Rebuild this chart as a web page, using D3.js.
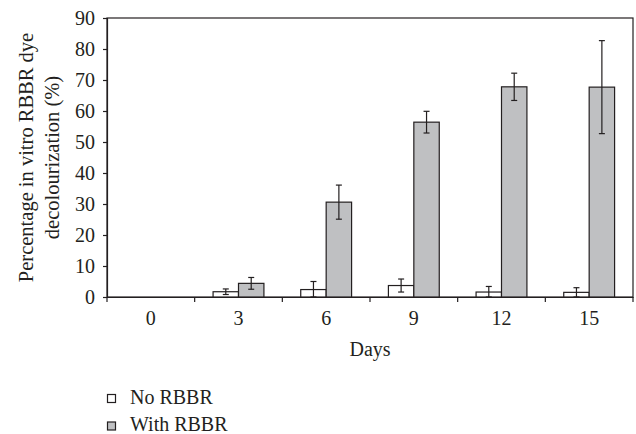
<!DOCTYPE html>
<html><head><meta charset="utf-8">
<script src="https://cdn.jsdelivr.net/npm/d3@7"></script>
<style>
body{margin:0;background:#fff;}
text{font-family:"Liberation Serif","Times New Roman",serif;fill:#231f20;}
</style></head>
<body><svg id="c" width="636" height="434"></svg>
<script>
const days = ["0","3","6","9","12","15"];
const seriesNames = ["No RBBR","With RBBR"];
const noRBBR = [0, 1.7, 2.4, 3.7, 1.6, 1.5];
const noRBBRErr = [0, 0.9, 2.6, 2.1, 1.8, 1.5];
const withRBBR = [0, 4.4, 30.6, 56.4, 67.8, 67.7];
const withRBBRErr = [0, 1.9, 5.5, 3.5, 4.4, 15.0];
const yTicks = [0,10,20,30,40,50,60,70,80,90];
const colors = ["#ffffff","#bfc0c2"];

const svg = d3.select("#c");
const m = {l:107, t:18, r:3, b:137};
const W = 636 - m.l - m.r, H = 434 - m.t - m.b;
const g = svg.append("g").attr("transform",`translate(${m.l},${m.t})`);

const x0 = d3.scaleBand().domain(days).range([0,W]).padding(0);
const x1 = d3.scaleBand().domain(seriesNames).range([x0.bandwidth()*0.21, x0.bandwidth()*0.79]).padding(0);
const y = d3.scaleLinear().domain([0,90]).range([H,0]);

// frame
g.append("rect").attr("x",0).attr("y",0).attr("width",W).attr("height",H)
 .attr("fill","none").attr("stroke","#231f20").attr("stroke-width",1.2);

const series = [
  {name:seriesNames[0], vals:noRBBR, errs:noRBBRErr, color:colors[0]},
  {name:seriesNames[1], vals:withRBBR, errs:withRBBRErr, color:colors[1]}
];

series.forEach(s=>{
  const grp = g.append("g");
  grp.selectAll("rect").data(days.map((d,i)=>({d, v:s.vals[i], e:s.errs[i]})).filter(o=>o.v>0))
    .join("rect")
    .attr("x",o=>x0(o.d)+x1(s.name))
    .attr("y",o=>y(o.v))
    .attr("width",x1.bandwidth())
    .attr("height",o=>y(0)-y(o.v))
    .attr("fill",s.color).attr("stroke","#231f20").attr("stroke-width",1.2);
  const eb = grp.selectAll("g.err").data(days.map((d,i)=>({d, v:s.vals[i], e:s.errs[i]})).filter(o=>o.e>0))
    .join("g").attr("class","err");
  const cx = o=>x0(o.d)+x1(s.name)+x1.bandwidth()/2;
  eb.append("line").attr("x1",cx).attr("x2",cx)
    .attr("y1",o=>y(o.v+o.e)).attr("y2",o=>y(Math.max(0,o.v-o.e)))
    .attr("stroke","#231f20").attr("stroke-width",1.2);
  [o=>o.v+o.e, o=>Math.max(0,o.v-o.e)].forEach(f=>{
    eb.append("line").attr("x1",o=>cx(o)-3).attr("x2",o=>cx(o)+3)
      .attr("y1",o=>y(f(o))).attr("y2",o=>y(f(o)))
      .attr("stroke","#231f20").attr("stroke-width",1.2);
  });
});

// y axis
const ya = g.append("g").call(d3.axisLeft(y).tickValues(yTicks).tickSize(4).tickPadding(8));
ya.select(".domain").attr("stroke","#231f20").attr("stroke-width",1.2);
ya.selectAll(".tick line").attr("stroke","#231f20").attr("stroke-width",1.2);
ya.selectAll("text").attr("font-size",20).attr("fill","#231f20").attr("font-family","Liberation Serif");

// x axis
const xa = g.append("g").attr("transform",`translate(0,${H})`)
  .call(d3.axisBottom(x0).tickSize(0).tickPadding(14));
xa.select(".domain").attr("stroke","#231f20").attr("stroke-width",1.2);
xa.selectAll("text").attr("font-size",20).attr("fill","#231f20").attr("font-family","Liberation Serif");
const edges = d3.range(days.length+1).map(i=>i*x0.step());
xa.selectAll("line.edge").data(edges).join("line").attr("class","edge")
  .attr("x1",d=>d).attr("x2",d=>d).attr("y1",0).attr("y2",5)
  .attr("stroke","#231f20").attr("stroke-width",1.2);

// axis titles
g.append("text").attr("x",W/2).attr("y",H+59).attr("text-anchor","middle")
  .attr("font-size",20).text("Days");
const yl = svg.append("text").attr("transform",`translate(33,${m.t+H/2}) rotate(-90)`)
  .attr("text-anchor","middle").attr("font-size",20.5);
yl.append("tspan").attr("x",0).attr("dy",0).text("Percentage in vitro RBBR dye");
yl.append("tspan").attr("x",0).attr("dy",26).text("decolourization (%)");

// legend
const lg = svg.append("g").attr("transform","translate(107,394)");
series.forEach((s,i)=>{
  const r = lg.append("g").attr("transform",`translate(0,${i*27.5})`);
  r.append("rect").attr("x",0.5).attr("y",0.5).attr("width",8).attr("height",8)
    .attr("fill",s.color).attr("stroke","#231f20").attr("stroke-width",1.2);
  r.append("text").attr("x",23).attr("y",9.5).attr("font-size",20).text(s.name);
});
</script></body></html>
